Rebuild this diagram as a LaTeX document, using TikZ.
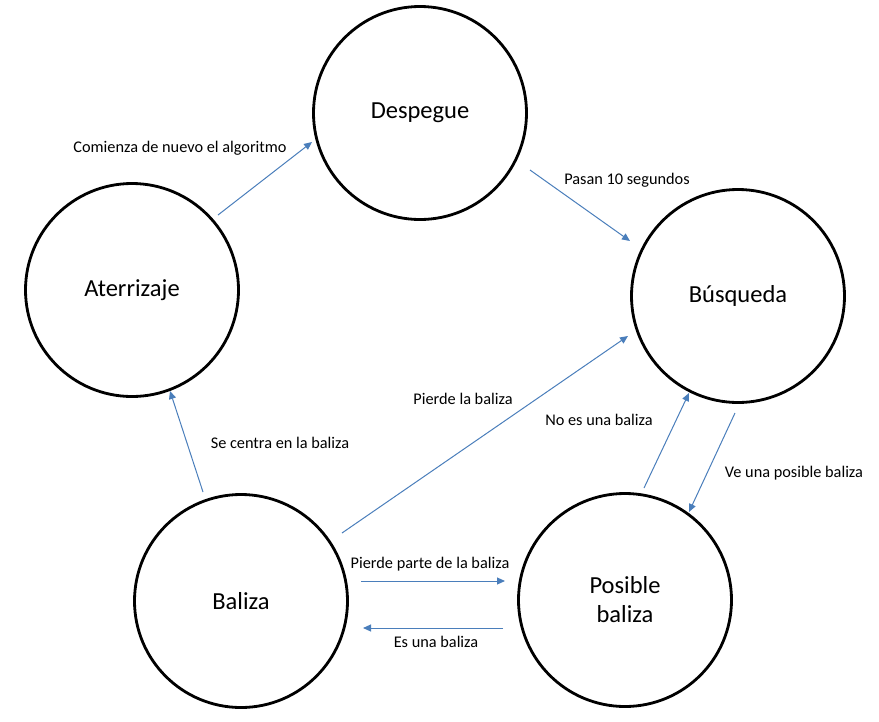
\documentclass[tikz,border=0pt]{standalone}
\usepackage{fontspec}
\setmainfont{Carlito}
\usetikzlibrary{arrows.meta}
\definecolor{arrblue}{HTML}{4A7EBB}
\begin{document}
\begin{tikzpicture}[x=1pt,y=-1pt,
  state/.style={circle,draw=black,line width=2.8pt,minimum size=213pt,inner sep=0pt,align=center,font=\fontsize{24.5}{29}\selectfont},
  conn/.style={draw=arrblue,line width=1pt,-{Triangle[width=7pt,length=8pt]}},
  lbl/.style={font=\fontsize{16.3}{19}\selectfont,inner sep=0pt}]
\useasboundingbox (0,0) rectangle (879,721);
\node[state] (des) at (420,113) {Despegue};
\node[state] (ate) at (132,290) {Aterrizaje};
\node[state] (bus) at (738,296) {Búsqueda};
\node[state] (bal) at (241,601) {Baliza};
\node[state] (pos) at (625,600) {Posible\\baliza};
% connector end points
\coordinate (a1) at (218,215); \coordinate (b1) at (312,142);
\coordinate (a2) at (530,170); \coordinate (b2) at (630,241);
\coordinate (a3) at (203,492); \coordinate (b3) at (170,391);
\coordinate (a4) at (342,533); \coordinate (b4) at (628,336);
\coordinate (a5) at (644,488); \coordinate (b5) at (689,393);
\coordinate (a6) at (735,413); \coordinate (b6) at (689,512);
\coordinate (a7) at (361,581); \coordinate (b7) at (505,581);
\coordinate (a8) at (503,628); \coordinate (b8) at (363,628);
\draw[conn] (a1) -- (b1);
\draw[conn] (a2) -- (b2);
\draw[conn] (a3) -- (b3);
\draw[conn] (a4) -- (b4);
\draw[conn] (a5) -- (b5);
\draw[conn] (a6) -- (b6);
\draw[conn] (a7) -- (b7);
\draw[conn] (a8) -- (b8);
\node[lbl] (l1) at (180,148) {Comienza de nuevo el algoritmo};
\node[lbl] (l2) at (627,180) {Pasan 10 segundos};
\node[lbl] (l3) at (280,443) {Se centra en la baliza};
\node[lbl] (l4) at (463,399) {Pierde la baliza};
\node[lbl] (l5) at (599,420) {No es una baliza};
\node[lbl] (l6) at (794,473) {Ve una posible baliza};
\node[lbl] (l7) at (430,564) {Pierde parte de la baliza};
\node[lbl] (l8) at (436,642) {Es una baliza};
\end{tikzpicture}
\end{document}
